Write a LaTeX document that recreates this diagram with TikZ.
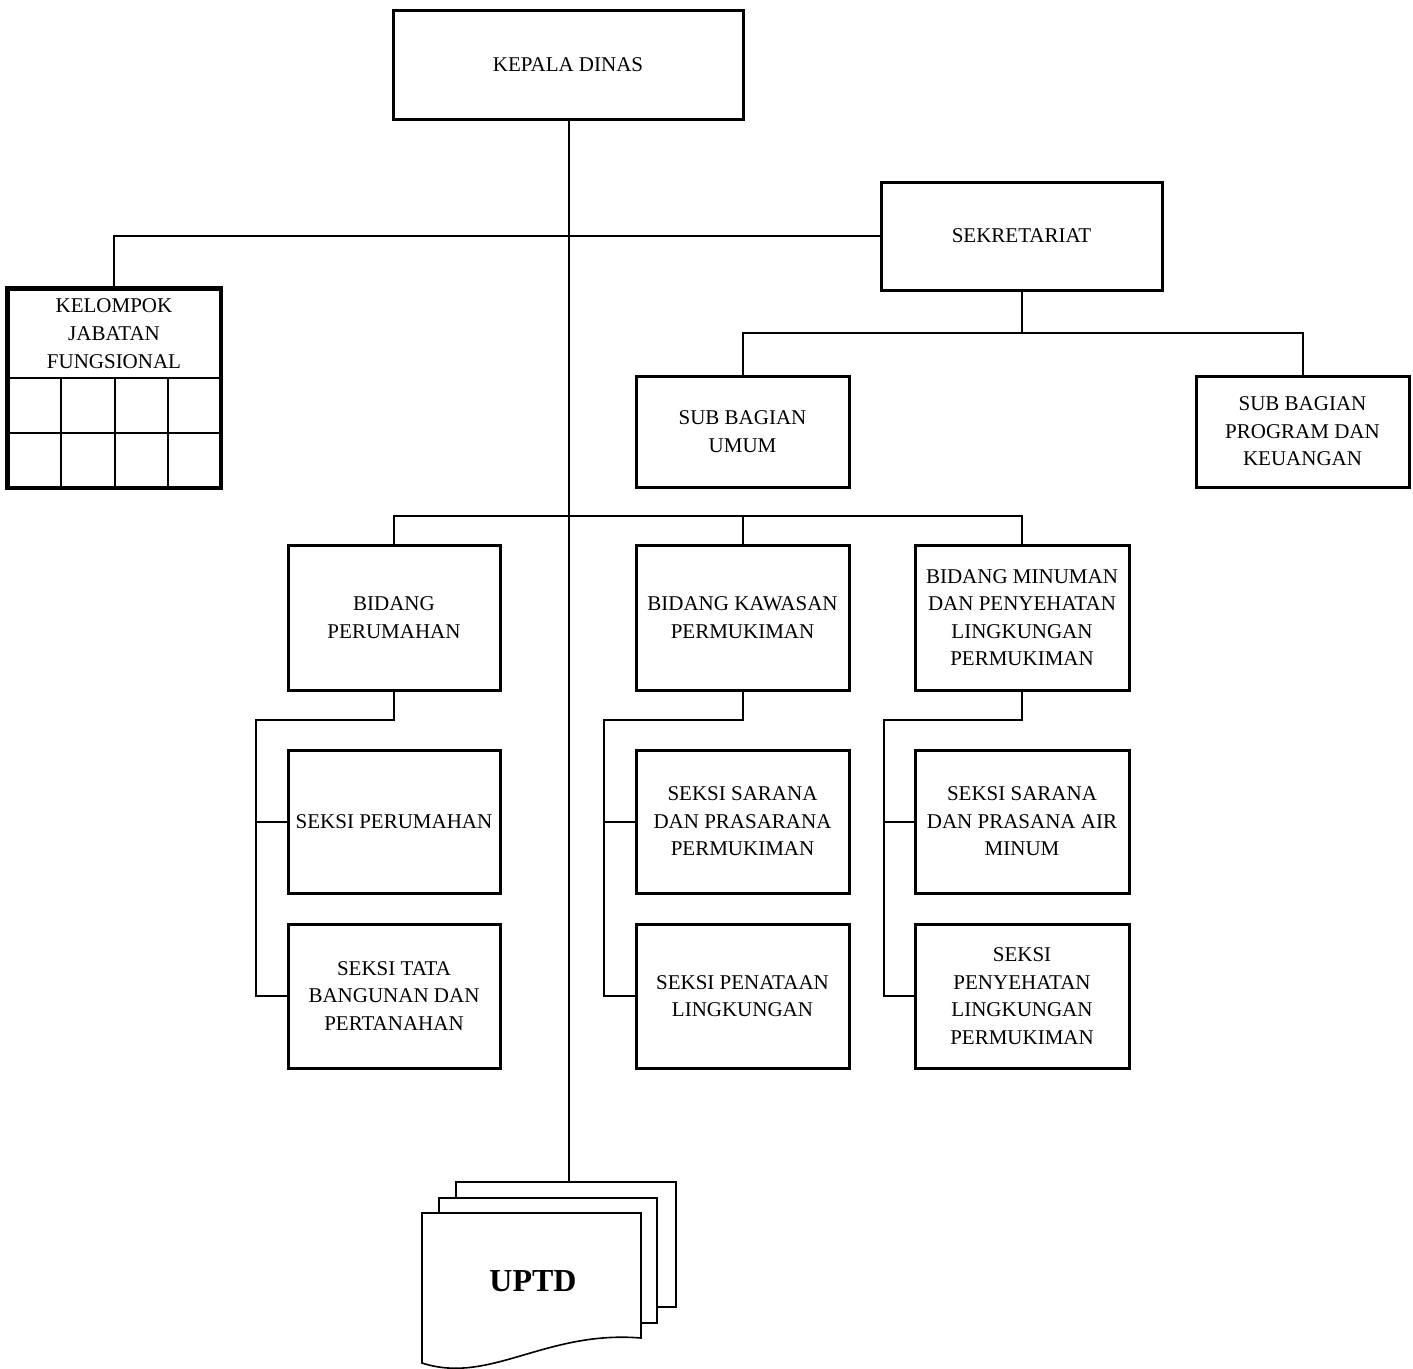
\documentclass[tikz,border=0pt]{standalone}
\usepackage{fontspec}
\setmainfont{Liberation Serif}
\begin{document}
\begin{tikzpicture}[x=1pt,y=-1pt,
  box/.style={draw=black,line width=3pt,fill=white,inner sep=0pt,align=center,
    font=\fontsize{21}{27.5}\selectfont},
  link/.style={draw=black,line width=2pt},
  page/.style={draw=black,line width=1.6pt,fill=white}]
\useasboundingbox[fill=white] (0,0) rectangle (1413,1368);
% UPTD pages
\coordinate (ut) at (569,1182);
\draw[link] (569,119) -- (ut);
\draw[page] (456,1182) rectangle (676,1307);
\draw[page] (439,1198) rectangle (657,1323);
\draw[page] (422,1213) -- (641,1213) -- (641,1338) .. controls (545,1330) and (490,1385) .. (422,1363) -- cycle;
\node[font=\fontsize{32}{36}\selectfont\bfseries] (uptd) at (533,1281) {UPTD};
% top
\node[box,minimum width=350,minimum height=109] (kd) at (568,64.5) {KEPALA DINAS};
\node[box,minimum width=281,minimum height=108] (sek) at (1021.5,236) {SEKRETARIAT};
\node[box,minimum width=212,minimum height=198] (kjf) at (114,388) {};
\node[font=\fontsize{21}{28}\selectfont,align=center] (kjft) at (114,334) {KELOMPOK\\JABATAN\\FUNGSIONAL};
\draw[line width=2pt] (8,378) -- (220,378) (8,433) -- (220,433)
  (61,378) -- (61,487) (115,378) -- (115,487) (168,378) -- (168,487);
\draw[line width=3pt] (kjf.north west) rectangle (kjf.south east);
\node[box,minimum width=213,minimum height=111] (sbu) at (742.5,431.5) {SUB BAGIAN\\UMUM};
\node[box,minimum width=213,minimum height=111] (sbp) at (1302.5,431.5) {SUB BAGIAN\\PROGRAM DAN\\KEUANGAN};
% bidang
\node[box,minimum width=212,minimum height=145] (bp) at (394,617.5) {BIDANG\\PERUMAHAN};
\node[box,minimum width=213,minimum height=145] (bk) at (742.5,617.5) {BIDANG KAWASAN\\PERMUKIMAN};
\node[box,minimum width=214,minimum height=145] (bm) at (1022,617.5) {BIDANG MINUMAN\\DAN PENYEHATAN\\LINGKUNGAN\\PERMUKIMAN};
% seksi
\node[box,minimum width=212,minimum height=143] (sp) at (394,821.5) {SEKSI PERUMAHAN};
\node[box,minimum width=212,minimum height=144] (st) at (394,996) {SEKSI TATA\\BANGUNAN DAN\\PERTANAHAN};
\node[box,minimum width=213,minimum height=143] (ss) at (742.5,821.5) {SEKSI SARANA\\DAN PRASARANA\\PERMUKIMAN};
\node[box,minimum width=213,minimum height=144] (sl) at (742.5,996) {SEKSI PENATAAN\\LINGKUNGAN};
\node[box,minimum width=214,minimum height=143] (sa) at (1022,821.5) {SEKSI SARANA\\DAN PRASANA AIR\\MINUM};
\node[box,minimum width=214,minimum height=144] (sy) at (1022,996) {SEKSI\\PENYEHATAN\\LINGKUNGAN\\PERMUKIMAN};
% connectors
\draw[link] (sek.west) -| (kjf.north);
\coordinate (sj) at (1021.5,333);
\draw[link] (sek.south) -- (sj);
\draw[link] (sj) -| (sbu.north);
\draw[link] (sj) -| (sbp.north);
\coordinate (bj) at (569,516);
\draw[link] (bj) -| (bp.north);
\draw[link] (bj) -| (bm.north);
\draw[link] (bk.north) -- (bk.north |- bj);
\coordinate (bpL) at (256,720);
\coordinate (bkL) at (604,720);
\coordinate (bmL) at (884,720);
\draw[link] (bp.south) |- (bpL) |- (st.west);
\draw[link] (sp.west) -- (sp.west -| bpL);
\draw[link] (bk.south) |- (bkL) |- (sl.west);
\draw[link] (ss.west) -- (ss.west -| bkL);
\draw[link] (bm.south) |- (bmL) |- (sy.west);
\draw[link] (sa.west) -- (sa.west -| bmL);
\end{tikzpicture}
\end{document}
